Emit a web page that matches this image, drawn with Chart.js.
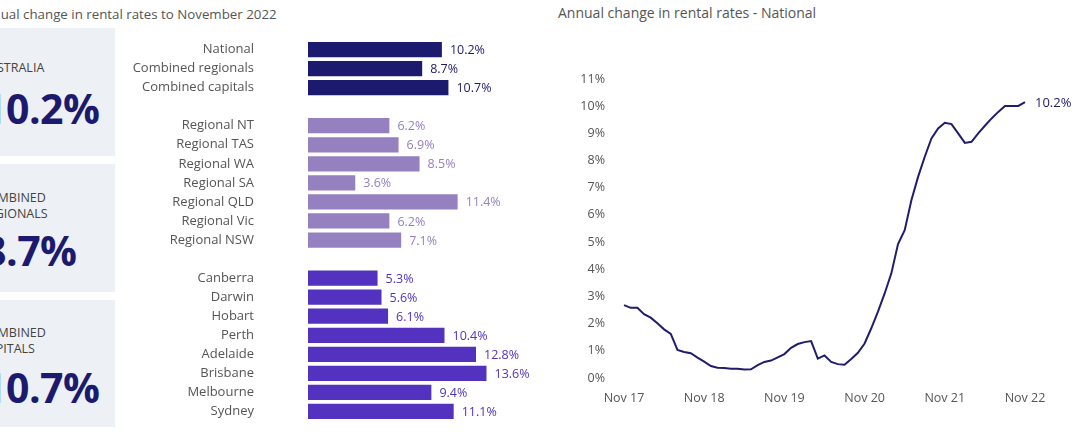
<!DOCTYPE html>
<html>
<head>
<meta charset="utf-8">
<script src="https://cdn.jsdelivr.net/npm/chart.js@4"></script>
<style>
  html, body { margin: 0; padding: 0; background: #fff; }
  body { width: 1080px; height: 441px; position: relative; overflow: hidden; font-family: "Open Sans", sans-serif; }
  .title { position: absolute; color: #555; white-space: nowrap; }
  .card { position: absolute; left: 0; width: 115px; background: #edf1f5; overflow: hidden; }
  .card .lab { position: absolute; left: -20px; font-size: 12.5px; line-height: 16px; color: #444; white-space: nowrap; }
  .card .num { position: absolute; left: -17px; font-size: 41px; font-weight: 700; color: #1c1a6e; white-space: nowrap; letter-spacing: -0.5px; }
  #barWrap { position: absolute; left: 120px; top: 40px; width: 430px; height: 381px; }
  #lineWrap { position: absolute; left: 550px; top: 60px; width: 530px; height: 360px; }
</style>
</head>
<body>
<div class="title" style="left:-24px; top:5px; font-size:13.3px;">Annual change in rental rates to November 2022</div>
<div class="title" style="left:558px; top:3px; font-size:14px;">Annual change in rental rates - National</div>

<div class="card" style="top:28px; height:128px;">
  <div class="lab" style="top:32px;">AUSTRALIA</div>
  <div class="num" style="top:52px;">10.2%</div>
</div>
<div class="card" style="top:164px; height:128px;">
  <div class="lab" style="top:26px;">COMBINED<br>REGIONALS</div>
  <div class="num" style="top:58px;">8.7%</div>
</div>
<div class="card" style="top:300px; height:127px;">
  <div class="lab" style="top:25px;">COMBINED<br>CAPITALS</div>
  <div class="num" style="top:59px;">10.7%</div>
</div>

<div id="barWrap"><canvas id="bar"></canvas></div>
<div id="lineWrap"><canvas id="line"></canvas></div>

<script>
// ---- Bar chart data ----
const barCategories = [
  'National', 'Combined regionals', 'Combined capitals', '',
  'Regional NT', 'Regional TAS', 'Regional WA', 'Regional SA', 'Regional QLD', 'Regional Vic', 'Regional NSW', '',
  'Canberra', 'Darwin', 'Hobart', 'Perth', 'Adelaide', 'Brisbane', 'Melbourne', 'Sydney'
];
const barValues = [
  10.2, 8.7, 10.7, null,
  6.2, 6.9, 8.5, 3.6, 11.4, 6.2, 7.1, null,
  5.3, 5.6, 6.1, 10.4, 12.8, 13.6, 9.4, 11.1
];
const barGroups = [
  0, 0, 0, -1,
  1, 1, 1, 1, 1, 1, 1, -1,
  2, 2, 2, 2, 2, 2, 2, 2
];
const groupColors = ['#1c1a6e', '#9580c0', '#5232be'];

// ---- Line chart data ----
const lineMonths = [
  'Nov 17','Dec 17','Jan 18','Feb 18','Mar 18','Apr 18','May 18','Jun 18','Jul 18','Aug 18','Sep 18','Oct 18',
  'Nov 18','Dec 18','Jan 19','Feb 19','Mar 19','Apr 19','May 19','Jun 19','Jul 19','Aug 19','Sep 19','Oct 19',
  'Nov 19','Dec 19','Jan 20','Feb 20','Mar 20','Apr 20','May 20','Jun 20','Jul 20','Aug 20','Sep 20','Oct 20',
  'Nov 20','Dec 20','Jan 21','Feb 21','Mar 21','Apr 21','May 21','Jun 21','Jul 21','Aug 21','Sep 21','Oct 21',
  'Nov 21','Dec 21','Jan 22','Feb 22','Mar 22','Apr 22','May 22','Jun 22','Jul 22','Aug 22','Sep 22','Oct 22',
  'Nov 22'
];
const lineValues = [
  2.68, 2.58, 2.58, 2.35, 2.22, 2.01, 1.79, 1.62, 1.03, 0.96, 0.91, 0.75,
  0.60, 0.44, 0.38, 0.37, 0.34, 0.34, 0.31, 0.32, 0.47, 0.59, 0.64, 0.76,
  0.88, 1.11, 1.25, 1.32, 1.36, 0.71, 0.83, 0.59, 0.51, 0.49, 0.70, 0.93,
  1.27, 1.83, 2.44, 3.11, 3.85, 4.93, 5.44, 6.54, 7.40, 8.14, 8.81, 9.18,
  9.39, 9.34, 9.00, 8.65, 8.69, 9.00, 9.28, 9.55, 9.79, 10.01, 10.01, 10.01,
  10.15
];
const lineTickLabels = ['Nov 17', 'Nov 18', 'Nov 19', 'Nov 20', 'Nov 21', 'Nov 22'];
const lineEndLabel = '10.2%';
const yTickValues = [0,1,2,3,4,5,6,7,8,9,10,11];

const FONT = '"Open Sans", sans-serif';
const GRAY = '#555';

// ---- Bar chart ----
const barValueLabels = {
  id: 'barValueLabels',
  afterDatasetsDraw(chart) {
    const ctx = chart.ctx;
    const meta = chart.getDatasetMeta(0);
    ctx.save();
    ctx.font = '12.5px ' + FONT;
    ctx.textAlign = 'left';
    ctx.textBaseline = 'middle';
    meta.data.forEach((el, i) => {
      const v = barValues[i];
      if (v === null) return;
      ctx.fillStyle = groupColors[barGroups[i]];
      ctx.fillText(v.toFixed(1) + '%', el.x + 8, el.y + 1);
    });
    ctx.restore();
  }
};

new Chart(document.getElementById('bar'), {
  type: 'bar',
  data: {
    labels: barCategories,
    datasets: [{
      data: barValues,
      backgroundColor: barGroups.map(g => g < 0 ? 'rgba(0,0,0,0)' : groupColors[g]),
      barPercentage: 0.8,
      categoryPercentage: 1.0,
      borderWidth: 0
    }]
  },
  options: {
    indexAxis: 'y',
    responsive: true,
    maintainAspectRatio: false,
    animation: false,
    layout: { padding: { top: 0, bottom: 0, left: 0, right: 32 } },
    plugins: { legend: { display: false }, tooltip: { enabled: false } },
    scales: {
      x: { display: false, min: 0, max: 16 },
      y: {
        grid: { display: false },
        border: { display: false },
        ticks: { padding: 46, color: GRAY, font: { family: FONT, size: 13 }, autoSkip: false },
        afterFit(scale) { scale.width = 188; scale.paddingTop = 0; scale.paddingBottom = 0; }
      }
    }
  },
  plugins: [barValueLabels]
});

// ---- Line chart ----
const endLabel = {
  id: 'endLabel',
  afterDatasetsDraw(chart) {
    const ctx = chart.ctx;
    const meta = chart.getDatasetMeta(0);
    const last = meta.data[meta.data.length - 1];
    ctx.save();
    ctx.font = '13px ' + FONT;
    ctx.fillStyle = '#1c1a6e';
    ctx.textAlign = 'left';
    ctx.textBaseline = 'middle';
    ctx.fillText(lineEndLabel, last.x + 10, last.y + 1);
    ctx.restore();
  }
};

new Chart(document.getElementById('line'), {
  type: 'line',
  data: {
    labels: lineMonths,
    datasets: [{
      data: lineValues,
      borderColor: '#1f1d6e',
      borderWidth: 2,
      pointRadius: 0,
      tension: 0,
      fill: false
    }]
  },
  options: {
    responsive: true,
    maintainAspectRatio: false,
    animation: false,
    layout: { padding: { top: 19, bottom: 0, left: 0, right: 55 } },
    plugins: { legend: { display: false }, tooltip: { enabled: false } },
    scales: {
      x: {
        offset: false,
        grid: { display: false },
        border: { display: false },
        ticks: {
          autoSkip: false, maxRotation: 0, minRotation: 0, padding: 5,
          color: GRAY, font: { family: FONT, size: 12.5 },
          callback: (v, i) => (i % 12 === 0 ? lineTickLabels[i / 12] : '')
        },
        afterFit(scale) { scale.height = 42; scale.paddingLeft = 0; scale.paddingRight = 0; }
      },
      y: {
        min: 0, max: 11,
        grid: { display: false },
        border: { display: false },
        afterBuildTicks(scale) { scale.ticks = yTickValues.map(v => ({ value: v })); },
        ticks: {
          padding: 11, color: GRAY, font: { family: FONT, size: 12.5 },
          callback: v => v + '%'
        },
        afterFit(scale) { scale.width = 74; scale.paddingTop = 0; scale.paddingBottom = 0; }
      }
    }
  },
  plugins: [endLabel]
});
</script>
</body>
</html>
